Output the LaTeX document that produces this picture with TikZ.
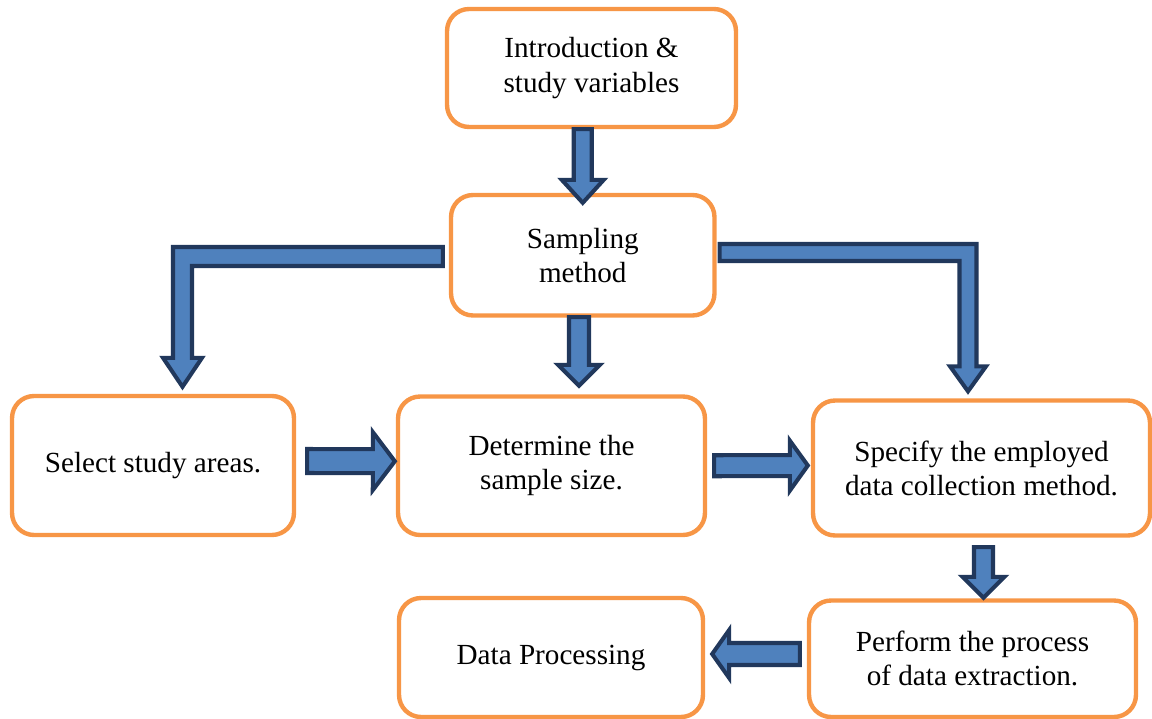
\documentclass[tikz,border=0pt]{standalone}
\usepackage{fontspec}
\setmainfont{Liberation Serif}
\usetikzlibrary{calc}
\definecolor{boxorange}{RGB}{247, 150, 70}
\definecolor{arrowblue}{RGB}{79, 129, 189}
\definecolor{arrownavy}{RGB}{33, 56, 92}

% default block arrow sizes: shaft half width, head half width, head length
\newcommand{\shaftw}{0.19cm}
\newcommand{\headw}{0.42cm}
\newcommand{\headl}{0.44cm}

\begin{document}
\begin{tikzpicture}[
    x=0.02cm, y=-0.02cm,
    stepbox/.style={
        draw=boxorange, line width=2.5pt, rounded corners=0.44cm,
        fill=white, align=center, inner sep=6pt,
        font=\fontsize{16.6}{19.4}\selectfont
    },
    arrow size/.code n args={3}{\def\shaftw{#1}\def\headw{#2}\def\headl{#3}},
    blockarrow/.style={
        draw=arrownavy, fill=arrowblue, line width=2.3pt, line join=miter,
        to path={
            ($(\tikztostart)!\shaftw!90:(\tikztotarget)$)
            -- ($(\tikztotarget)!\headl!(\tikztostart)!\shaftw!90:(\tikztotarget)$)
            -- ($(\tikztotarget)!\headl!(\tikztostart)!\headw!90:(\tikztotarget)$)
            -- (\tikztotarget)
            -- ($(\tikztotarget)!\headl!(\tikztostart)!\headw!-90:(\tikztotarget)$)
            -- ($(\tikztotarget)!\headl!(\tikztostart)!\shaftw!-90:(\tikztotarget)$)
            -- ($(\tikztostart)!\shaftw!-90:(\tikztotarget)$)
            -- cycle
        }
    }
]
\useasboundingbox (0,0) rectangle (1152,719);

% BOXES
\node[stepbox, minimum width=5.78cm, minimum height=2.36cm] (intro) at (591.5,68)
    {Introduction \&\\study variables};
\node[stepbox, minimum width=5.27cm, minimum height=2.41cm] (sampling) at (582.75,255.25)
    {Sampling\\method};
\node[stepbox, minimum width=5.64cm, minimum height=2.78cm] (select) at (153,465.5)
    {Select study areas.};
\node[stepbox, minimum width=6.14cm, minimum height=2.77cm] (determine) at (551.5,465.75)
    {Determine the\\sample size.};
\node[stepbox, minimum width=6.74cm, minimum height=2.7cm] (specify) at (981.5,468)
    {Specify the employed\\data collection method.};
\node[stepbox, minimum width=6.54cm, minimum height=2.33cm] (perform) at (972.5,658.75)
    {Perform the process\\of data extraction.};
\node[stepbox, minimum width=6.08cm, minimum height=2.38cm] (dataproc) at (551,657.5)
    {Data Processing};

% STRAIGHT ARROWS
\draw[blockarrow, arrow size={0.18cm}{0.42cm}{0.46cm}]
    (sampling.north |- intro.south) to ($(sampling.north)+(0,10)$);
\draw[blockarrow, arrow size={0.2cm}{0.42cm}{0.42cm}]
    ($(sampling.south)+(-3.75,-0.5)$) to ($(sampling.south |- determine.north)+(-3.75,-8.5)$);
\draw[blockarrow, arrow size={0.24cm}{0.58cm}{0.44cm}]
    ($(select.east)+(11,-4.5)$) to ($(determine.west)+(-1,-4.5)$);
\draw[blockarrow, arrow size={0.21cm}{0.5cm}{0.36cm}]
    ($(determine.east)+(7,0)$) to ($(specify.west)+(-3,-2.5)$);
\draw[blockarrow, arrow size={0.19cm}{0.42cm}{0.42cm}]
    ($(specify.south)+(2,9.5)$) to ($(specify.south |- perform.north)+(2,-0.5)$);
\draw[blockarrow, arrow size={0.22cm}{0.48cm}{0.34cm}]
    ($(perform.west)+(-7,-4.75)$) to ($(dataproc.east)+(7,-3.5)$);

% BENT ARROWS
\coordinate (leftbend) at (182.5,256.5);
\coordinate (rightbend) at (968,252.5);

\path[blockarrow, arrow size={0.19cm}{0.39cm}{0.58cm}]
    let \p1=($(sampling.west)+(-6,0)$), \p2=(leftbend), \p3=($(select.north)+(0,-7)$) in
    (\x1,\y2+\shaftw) -- (\x2-\shaftw,\y2+\shaftw) -- (\x2-\shaftw,\y3+\headl)
    -- (\x2-\headw,\y3+\headl) -- (\x2,\y3) -- (\x2+\headw,\y3+\headl)
    -- (\x2+\shaftw,\y3+\headl) -- (\x2+\shaftw,\y2-\shaftw) -- (\x1,\y2-\shaftw) -- cycle;

\path[blockarrow, arrow size={0.17cm}{0.36cm}{0.5cm}]
    let \p1=($(sampling.east)+(3,0)$), \p2=(rightbend), \p3=($(specify.north)+(0,-7)$) in
    (\x1,\y2+\shaftw) -- (\x2+\shaftw,\y2+\shaftw) -- (\x2+\shaftw,\y3+\headl)
    -- (\x2+\headw,\y3+\headl) -- (\x2,\y3) -- (\x2-\headw,\y3+\headl)
    -- (\x2-\shaftw,\y3+\headl) -- (\x2-\shaftw,\y2-\shaftw) -- (\x1,\y2-\shaftw) -- cycle;

\end{tikzpicture}
\end{document}
